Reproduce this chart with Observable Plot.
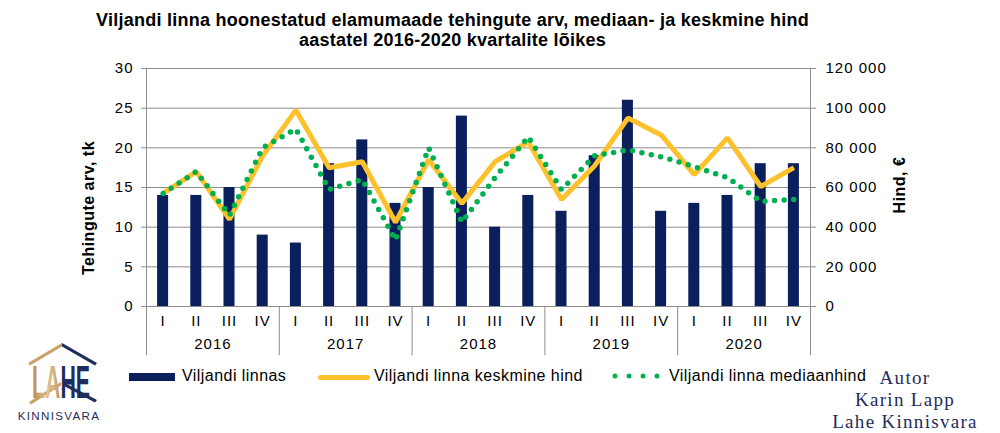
<!DOCTYPE html>
<html>
<head>
<meta charset="utf-8">
<script src="https://cdn.jsdelivr.net/npm/d3@7"></script>
<script src="https://cdn.jsdelivr.net/npm/@observablehq/plot@0.6"></script>
<style>
  body { margin: 0; background: #fff; font-family: "Liberation Sans", Arial, sans-serif; }
  #wrap { position: relative; width: 1000px; height: 433px; overflow: hidden; background: #fff; }
  #title { position: absolute; left: 0; top: 11px; width: 905px; text-align: center; font-weight: bold; font-size: 18px; letter-spacing: 0.25px; line-height: 19.5px; color: #000; }
  #chart { position: absolute; left: 0; top: 55px; }
  .ytitle { position: absolute; font-weight: bold; font-size: 16px; letter-spacing: 0.5px; color: #000; white-space: nowrap; transform: translate(-50%, -50%) rotate(-90deg); }
  .leg { position: absolute; font-size: 16px; letter-spacing: 0.45px; color: #000; white-space: nowrap; }
  .auth { position: absolute; left: 805px; width: 200px; text-align: center; font-family: "Liberation Serif", "DejaVu Serif", serif; font-size: 19px; letter-spacing: 1.3px; line-height: 19px; color: #1f2d5c; white-space: nowrap; }
</style>
</head>
<body>
<div id="wrap">
  <div id="title">Viljandi linna hoonestatud elamumaade tehingute arv, mediaan- ja keskmine hind<br>aastatel 2016-2020 kvartalite lõikes</div>
  <div id="chart"></div>
  <div class="ytitle" style="left:89px; top:208px;">Tehingute arv, tk</div>
  <div class="ytitle" style="left:900px; top:185px;">Hind, €</div>

  <div class="leg" style="left:129px; top:373px; width:46px; height:8px; background:#0a1f5c;"></div>
  <div class="leg" style="left:182px; top:367px;">Viljandi linnas</div>
  <div class="leg" style="left:318px; top:375px; width:52px; height:5px; background:#fdc12b; border-radius:2.5px;"></div>
  <div class="leg" style="left:374px; top:367px;">Viljandi linna keskmine hind</div>
  <svg class="leg" style="left:608px; top:369px;" width="56" height="14">
    <g fill="#00b050"><circle cx="7" cy="7" r="2.5"/><circle cx="21" cy="7" r="2.5"/><circle cx="35" cy="7" r="2.5"/><circle cx="49" cy="7" r="2.5"/></g>
  </svg>
  <div class="leg" style="left:669px; top:367px;">Viljandi linna mediaanhind</div>

  <svg style="position:absolute; left:0; top:335px;" width="125" height="95">
    <defs>
      <linearGradient id="logoFill" gradientUnits="userSpaceOnUse" x1="32" y1="0" x2="90" y2="0">
        <stop offset="0" stop-color="#b8874a"/><stop offset="0.25" stop-color="#e2c596"/><stop offset="0.5" stop-color="#c49a5f"/>
        <stop offset="0.5" stop-color="#1f2d5c"/><stop offset="1" stop-color="#1f2d5c"/>
      </linearGradient>
    </defs>
    <polygon points="28,28 62,8 62,11.5 30,30.5" fill="#c9a268"/>
    <polygon points="62,8 97,28 95,30.5 62,11.5" fill="#1f2d5c"/>
    <polygon points="29,67 61,47 61,50.5 31,69.5" fill="#c9a268"/>
    <polygon points="63,47 97,65 95,67.5 63,50.5" fill="#1f2d5c"/>
    <g transform="scale(1,1.55)">
      <text x="32" y="40.6" font-family="Liberation Sans Narrow, Liberation Sans, sans-serif" font-weight="bold" font-size="30" fill="url(#logoFill)" textLength="58" lengthAdjust="spacingAndGlyphs">LAHE</text>
    </g>
    <text x="59" y="84.5" text-anchor="middle" font-family="Liberation Sans, sans-serif" font-size="11.6" fill="#1f2d5c" letter-spacing="1.3">KINNISVARA</text>
  </svg>

  <div class="auth" style="top:368px;">Autor</div>
  <div class="auth" style="top:390px;">Karin Lapp</div>
  <div class="auth" style="top:412px;">Lahe Kinnisvara</div>
</div>
<script>
// ---- data ----
const years = ["2016", "2017", "2018", "2019", "2020"];
const quarters = ["I", "II", "III", "IV"];
const deals = [14, 14, 15, 9, 8, 18, 21, 13, 15, 24, 10, 14, 12, 19, 26, 12, 13, 14, 18, 18];
const meanPrice = [57000, 68000, 44000, 76000, 99000, 70000, 73000, 42500, 74000, 52000, 73000, 83000, 54000, 71000, 95000, 86500, 66500, 85000, 60500, 70000];
const medianPrice = [57000, 68000, 46000, 80000, 89500, 59000, 64000, 33500, 80000, 42500, 65000, 85500, 59000, 76000, 79000, 75500, 70500, 65000, 53000, 54000];
const leftTicks = [0, 5, 10, 15, 20, 25, 30];
const rightTicks = [0, 20000, 40000, 60000, 80000, 100000, 120000];

// ---- build ----
const ratio = 120000 / 30; // right axis units per left axis unit
const rows = deals.map((d, i) => ({
  i, q: quarters[i % 4], year: years[Math.floor(i / 4)],
  deals: d, mean: meanPrice[i] / ratio, median: medianPrice[i] / ratio
}));
const n = rows.length;
const half = 0.166;
const grid = "#8c8c8c";
const fmt = v => d3.format(",")(v).replace(/,/g, " ");
const yearMid = years.map((y, k) => ({year: y, x: k * 4 + 1.5}));
const seps = d3.range(1, years.length).map(k => k * 4 - 0.5);

const chart = Plot.plot({
  width: 1000, height: 305,
  marginLeft: 146, marginRight: 190, marginTop: 13, marginBottom: 54,
  style: {fontFamily: "Liberation Sans, Arial, sans-serif", fontSize: "15px", letterSpacing: "1px", color: "#000", background: "transparent", overflow: "visible"},
  x: {type: "linear", domain: [-0.5, n - 0.5], axis: null},
  y: {type: "linear", domain: [0, 30], axis: null},
  marks: [
    Plot.ruleY(leftTicks.slice(1), {stroke: grid, strokeWidth: 1}),
    Plot.rectY(rows, {x1: d => d.i - half, x2: d => d.i + half, y: "deals", fill: "#0a1f5c"}),
    Plot.line(rows, {x: "i", y: "mean", stroke: "#fdc12b", strokeWidth: 5, strokeLinejoin: "miter", strokeLinecap: "butt"}),
    Plot.line(rows, {x: "i", y: "median", stroke: "#00b050", strokeWidth: 5.5, strokeDasharray: "0 9.6", strokeLinecap: "round", strokeLinejoin: "round"}),
    Plot.ruleY([0], {stroke: grid, strokeWidth: 1}),
    Plot.ruleX([-0.5, n - 0.5], {y1: -6.2, y2: 30, stroke: grid, strokeWidth: 1}),
    Plot.ruleX(seps, {y1: -6.2, y2: 0, stroke: grid, strokeWidth: 1}),
    Plot.axisY({anchor: "left", ticks: leftTicks, tickSize: 5, tickPadding: 8, stroke: grid, fill: "#000", fontSize: 15, label: null}),
    Plot.axisY({anchor: "right", ticks: rightTicks.map(v => v / ratio), tickSize: 5, tickPadding: 10, stroke: grid, fill: "#000", fontSize: 15, tickFormat: d => fmt(Math.round(d * ratio)), label: null}),
    Plot.text(rows, {x: "i", y: 0, text: "q", dy: 15, fill: "#000", fontSize: 15}),
    Plot.text(yearMid, {x: "x", y: 0, text: "year", dy: 38, fill: "#000", fontSize: 15})
  ]
});
document.getElementById("chart").appendChild(chart);
</script>
</body>
</html>
